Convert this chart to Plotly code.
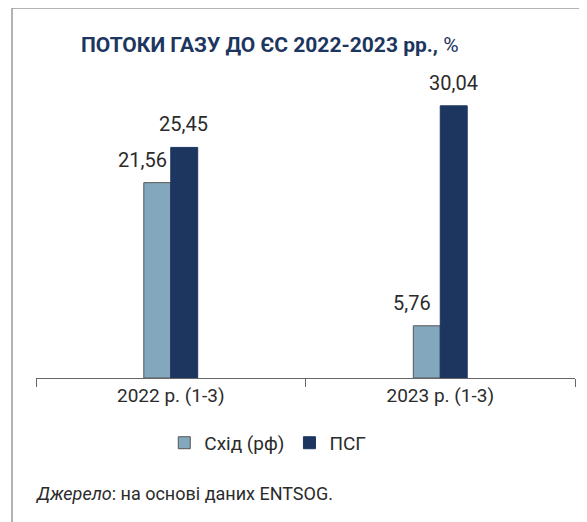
import plotly.graph_objects as go

# data
categories = ["2022 р. (1-3)", "2023 р. (1-3)"]
east_rf = [21.56, 5.76]
psg = [25.45, 30.04]
series_names = ["Схід (рф)", "ПСГ"]

FONT = "Roboto, Arial"
TEXT_COLOR = "#2b2b2b"
NAVY = "#1d3660"
LIGHT = "#83a8bd"


def fmt(v):
    return f"{v:.2f}".replace(".", ",")


fig = go.Figure()

fig.add_trace(go.Bar(
    x=categories,
    y=east_rf,
    name=series_names[0],
    marker=dict(color=LIGHT, line=dict(color="#555555", width=1)),
))

fig.add_trace(go.Bar(
    x=categories,
    y=psg,
    name=series_names[1],
    marker=dict(color=NAVY, line=dict(color=NAVY, width=1)),
))

# value labels (light series nudged left like in the original)
for cat, v in zip(categories, east_rf):
    fig.add_annotation(x=cat, y=v, text=fmt(v), showarrow=False,
                       xanchor="center", yanchor="bottom", xshift=-28, yshift=9,
                       font=dict(size=20, color=TEXT_COLOR, family=FONT))
for cat, v in zip(categories, psg):
    fig.add_annotation(x=cat, y=v, text=fmt(v), showarrow=False,
                       xanchor="center", yanchor="bottom", xshift=13, yshift=9,
                       font=dict(size=20, color=TEXT_COLOR, family=FONT))

# title
fig.add_annotation(
    text="<b>ПОТОКИ ГАЗУ ДО ЄС 2022-2023 рр.,</b> %",
    xref="paper", yref="paper", x=0.434, y=1.114,
    xanchor="center", yanchor="middle", showarrow=False,
    font=dict(size=21, color=NAVY, family=FONT),
)

# source
fig.add_annotation(
    text="<i>Джерело</i>: на основі даних ENTSOG.",
    xref="paper", yref="paper", x=-0.006, y=-0.385,
    xanchor="left", yanchor="middle", showarrow=False,
    font=dict(size=18, color=TEXT_COLOR, family=FONT),
)

# frame
fig.add_shape(type="line", xref="paper", yref="paper",
              x0=-0.0445, x1=1.2, y0=1.2375, y1=1.2375,
              line=dict(color="#9a9a9a", width=1.5))
fig.add_shape(type="line", xref="paper", yref="paper",
              x0=-0.0445, x1=-0.0445, y0=1.2375, y1=-0.6,
              line=dict(color="#9a9a9a", width=1.5))

# page body has an 8px margin, margins below compensate for it
fig.update_layout(
    width=587,
    height=522,
    margin=dict(l=28, r=20, t=71, b=152),
    paper_bgcolor="white",
    plot_bgcolor="white",
    barmode="group",
    bargap=0.8,
    bargroupgap=0,
    font=dict(family=FONT, color=TEXT_COLOR),
    showlegend=True,
    legend=dict(
        orientation="h",
        x=0.43, y=-0.217,
        xanchor="center", yanchor="middle",
        font=dict(size=19, color=TEXT_COLOR, family=FONT),
        itemwidth=30,
    ),
    xaxis=dict(
        showline=True,
        linecolor="#666666",
        linewidth=1,
        ticks="outside",
        tickson="boundaries",
        ticklen=8,
        tickcolor="#666666",
        tickfont=dict(size=19, color=TEXT_COLOR, family=FONT),
        showgrid=False,
    ),
    yaxis=dict(
        range=[0, 33],
        visible=False,
        showgrid=False,
    ),
)

fig.write_html("out.html")
